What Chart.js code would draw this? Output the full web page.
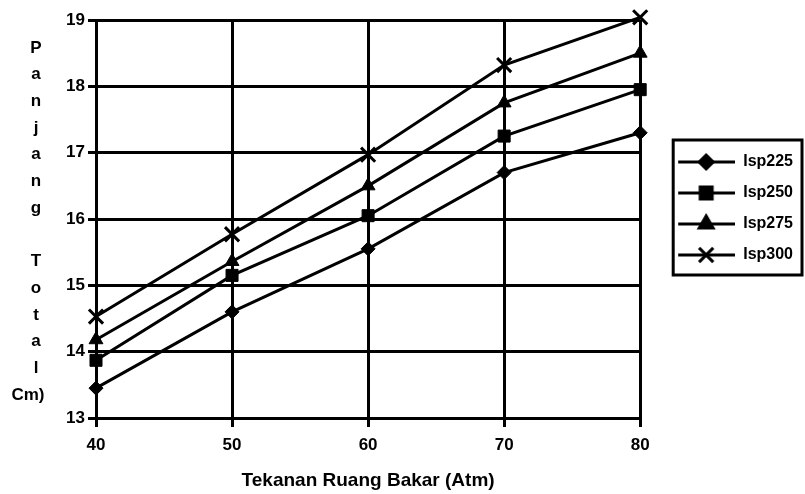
<!DOCTYPE html>
<html>
<head>
<meta charset="utf-8">
<script src="https://cdn.jsdelivr.net/npm/chart.js@4"></script>
<style>
  html, body { margin: 0; padding: 0; background: #fff; }
  #wrap { width: 805px; height: 494px; }
</style>
</head>
<body>
<div id="wrap"><canvas id="chart"></canvas></div>
<script>
// data
const pressures = [40, 50, 60, 70, 80];
const isp225 = [13.45, 14.6, 15.55, 16.7, 17.3];
const isp250 = [13.87, 15.15, 16.05, 17.25, 17.95];
const isp275 = [14.18, 15.36, 16.5, 17.75, 18.5];
const isp300 = [14.53, 15.77, 16.97, 18.32, 19.04];
const seriesNames = ["Isp225", "Isp250", "Isp275", "Isp300"];
const yTitleLetters = ["P", "a", "n", "j", "a", "n", "g", "", "T", "o", "t", "a", "l", "Cm)"];
const xTitle = "Tekanan Ruang Bakar (Atm)";

const FONT = "'Liberation Sans', Arial, sans-serif";
const markers = [
    { pointStyle: "rectRot", radius: 7, borderWidth: 1 },
    { pointStyle: "rect", radius: 8.5, borderWidth: 1 },
    { pointStyle: "triangle", radius: 8, borderWidth: 1 },
    { pointStyle: "crossRot", radius: 10, borderWidth: 3 }
];

const allSeries = [isp225, isp250, isp275, isp300];

// legend symbol: short line with the marker in the middle
function legendSymbol(m) {
    const c = document.createElement("canvas");
    c.width = 80; c.height = 24;
    const ctx = c.getContext("2d");
    ctx.strokeStyle = "#000";
    ctx.fillStyle = "#000";
    ctx.lineWidth = 3;
    ctx.beginPath();
    ctx.moveTo(23, 12);
    ctx.lineTo(80, 12);
    ctx.stroke();
    Chart.helpers.drawPoint(ctx, { pointStyle: m.pointStyle, radius: m.radius, borderWidth: m.borderWidth, rotation: 0 }, 51, 12);
    return c;
}

const datasets = allSeries.map((vals, i) => ({
    label: seriesNames[i],
    data: pressures.map((p, j) => ({ x: p, y: vals[j] })),
    borderColor: "#000",
    backgroundColor: "#000",
    borderWidth: 3,
    pointStyle: markers[i].pointStyle,
    pointRadius: markers[i].radius,
    pointBorderWidth: markers[i].borderWidth,
    pointBackgroundColor: "#000",
    pointBorderColor: "#000",
    tension: 0,
    clip: false
}));

const legendFrame = {
    id: "legendFrame",
    afterLayout(chart) {
        chart.legend.top = 139;
    },
    afterDraw(chart) {
        const lg = chart.legend;
        const ctx = chart.ctx;
        ctx.save();
        ctx.strokeStyle = "#000";
        ctx.lineWidth = 3;
        ctx.strokeRect(lg.left + 33, lg.top + 1, 802 - (lg.left + 33), 135);
        ctx.restore();
    }
};

const yTitle = {
    id: "yTitle",
    afterDraw(chart) {
        const ctx = chart.ctx;
        ctx.save();
        ctx.fillStyle = "#000";
        ctx.font = "bold 17px " + FONT;
        ctx.textAlign = "center";
        ctx.textBaseline = "middle";
        yTitleLetters.forEach((ch, i) => {
            if (ch === "Cm)") ctx.fillText(ch, 28, 48 + i * 26.7);
            else ctx.fillText(ch, 36, 48 + i * 26.7);
        });
        ctx.restore();
    }
};

new Chart(document.getElementById("chart"), {
    type: "line",
    data: { datasets: datasets },
    options: {
        responsive: true,
        maintainAspectRatio: false,
        animation: false,
        layout: { padding: { top: 20, right: 2, bottom: 0, left: 0 } },
        plugins: {
            legend: {
                position: "right",
                align: "start",
                labels: {
                    usePointStyle: true,
                    pointStyleWidth: 80,
                    padding: 15,
                    color: "#000",
                    font: { family: FONT, size: 16, weight: "bold" },
                    generateLabels: (chart) => seriesNames.map((name, i) => ({
                        text: name,
                        pointStyle: legendSymbol(markers[i]),
                        fillStyle: "#000",
                        strokeStyle: "#000",
                        lineWidth: 0,
                        fontColor: "#000",
                        hidden: false,
                        datasetIndex: i
                    }))
                }
            },
            tooltip: { enabled: false }
        },
        scales: {
            x: {
                type: "linear",
                min: 40,
                max: 80,
                afterFit: (s) => { s.height = 76; },
                ticks: { stepSize: 10, color: "#000", padding: 8, font: { family: FONT, size: 17, weight: "bold" } },
                grid: { color: "#000", lineWidth: 3, tickLength: 9 },
                border: { color: "#000", width: 3 },
                title: { display: true, text: xTitle, color: "#000", padding: { top: 0, bottom: 2 }, font: { family: FONT, size: 19, weight: "bold" } }
            },
            y: {
                min: 13,
                max: 19,
                afterFit: (s) => { s.width = 96; },
                ticks: { stepSize: 1, color: "#000", padding: 3, font: { family: FONT, size: 17, weight: "bold" } },
                grid: { color: "#000", lineWidth: 3, tickLength: 8 },
                border: { color: "#000", width: 3 }
            }
        }
    },
    plugins: [legendFrame, yTitle]
});
</script>
</body>
</html>
